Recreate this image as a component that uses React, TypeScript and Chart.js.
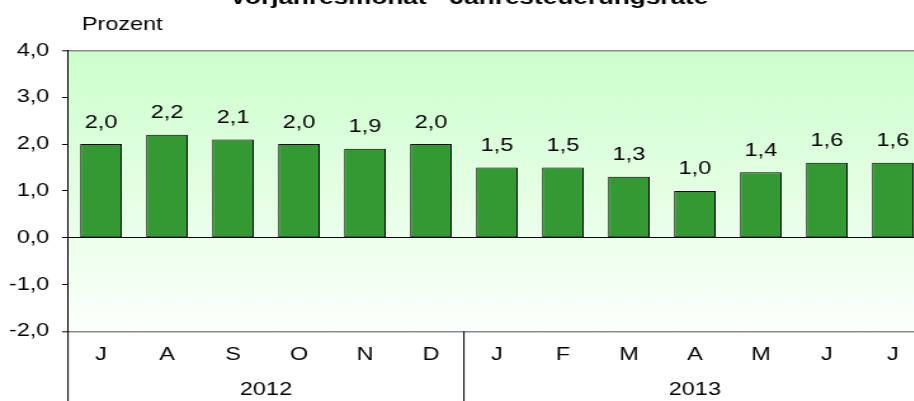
import React, { useEffect, useRef } from "react";
import { Chart, registerables } from "chart.js";

Chart.register(...registerables);

const monthLabels = ["J", "A", "S", "O", "N", "D", "J", "F", "M", "A", "M", "J", "J"];
const rateValues = [2.0, 2.2, 2.1, 2.0, 1.9, 2.0, 1.5, 1.5, 1.3, 1.0, 1.4, 1.6, 1.6];
const yearLabels = ["2012", "2013"];
const yearMonthCounts = [6, 7];
const yTickMin = -2;
const yTickMax = 4;
const titleText = "Vorjahresmonat - Jahresteuerungsrate";
const unitText = "Prozent";

const INTERNAL_W = 740;
const H = 401;
const STRETCH = 914 / 720;
const FONT = "'Liberation Sans', Arial, sans-serif";
const FS = 18.5;

const fmt = (v: number) => v.toFixed(1).replace(".", ",");

export default function App() {
  const ref = useRef<HTMLCanvasElement | null>(null);

  useEffect(() => {
    const canvas = ref.current;
    if (!canvas) return;

    const bgPlugin = {
      id: "bgGradient",
      beforeDraw(chart: any) {
        const { ctx, chartArea } = chart;
        const g = ctx.createLinearGradient(0, chartArea.top, 0, chartArea.bottom);
        g.addColorStop(0, "rgb(204,255,204)");
        g.addColorStop(1, "rgb(252,255,252)");
        ctx.save();
        ctx.fillStyle = g;
        ctx.fillRect(chartArea.left, chartArea.top, chartArea.right - chartArea.left, chartArea.bottom - chartArea.top);
        ctx.restore();
      },
    };

    const decoPlugin = {
      id: "deco",
      afterDraw(chart: any) {
        const { ctx, chartArea } = chart;
        const xs = chart.scales.x;
        const meta = chart.getDatasetMeta(0);
        ctx.save();
        ctx.fillStyle = "#000";
        ctx.font = `${FS}px ${FONT}`;
        ctx.textAlign = "center";
        ctx.textBaseline = "middle";
        meta.data.forEach((bar: any, i: number) => {
          ctx.fillText(fmt(rateValues[i]), bar.x, bar.y - 21.5);
        });
        ctx.font = `bold 20.6px ${FONT}`;
        ctx.textBaseline = "alphabetic";
        ctx.fillText(titleText, 369.5, 4);
        ctx.font = `${FS}px ${FONT}`;
        ctx.textAlign = "left";
        ctx.fillText(unitText, 64.5, 30);
        ctx.strokeStyle = "#000";
        ctx.lineWidth = 1;
        ctx.beginPath();
        ctx.moveTo(chartArea.left, chartArea.bottom);
        ctx.lineTo(chartArea.left, H);
        let start = 0;
        yearMonthCounts.forEach((count, gi) => {
          const end = start + count - 1;
          if (gi < yearMonthCounts.length - 1) {
            const sx = (xs.getPixelForValue(end) + xs.getPixelForValue(end + 1)) / 2;
            ctx.moveTo(sx, chartArea.bottom);
            ctx.lineTo(sx, H);
          }
          start = end + 1;
        });
        ctx.stroke();
        ctx.textAlign = "center";
        ctx.textBaseline = "middle";
        start = 0;
        yearMonthCounts.forEach((count, gi) => {
          const end = start + count - 1;
          const cx = (xs.getPixelForValue(start) + xs.getPixelForValue(end)) / 2;
          ctx.fillText(yearLabels[gi], cx, 389.5);
          start = end + 1;
        });
        ctx.restore();
      },
    };

    const chart = new Chart(canvas, {
      type: "bar",
      data: {
        labels: monthLabels,
        datasets: [
          {
            data: rateValues,
            backgroundColor: "#339933",
            borderColor: "#000",
            borderWidth: 1,
            borderSkipped: false,
            barPercentage: 0.63,
            categoryPercentage: 1,
          },
        ],
      },
      options: {
        animation: false,
        responsive: false,
        devicePixelRatio: 1,
        layout: { padding: { top: 50.5, left: 0, right: INTERNAL_W - 729.6, bottom: 0 } },
        plugins: { legend: { display: false }, tooltip: { enabled: false }, title: { display: false } },
        scales: {
          x: {
            type: "category",
            offset: true,
            grid: { display: false, drawTicks: false },
            border: { display: false },
            ticks: {
              color: "#000",
              font: { size: FS, family: FONT },
              padding: 13,
              autoSkip: false,
              maxRotation: 0,
              minRotation: 0,
            },
            afterFit(scale: any) {
              scale.height = H - 331.3;
            },
          },
          y: {
            min: yTickMin,
            max: yTickMax,
            ticks: {
              stepSize: 1,
              color: "#000",
              font: { size: FS, family: FONT },
              padding: 10,
              callback: (v: any) => fmt(Number(v)),
            },
            grid: {
              drawOnChartArea: true,
              drawTicks: true,
              tickLength: 4.7,
              tickColor: "#000",
              tickWidth: 1,
              color: (c: any) => {
                const v = c.tick ? c.tick.value : null;
                if (v === 0) return "#000";
                if (v === yTickMax || v === yTickMin) return "#8a8a8a";
                return "rgba(0,0,0,0)";
              },
              lineWidth: (c: any) => {
                const v = c.tick ? c.tick.value : null;
                if (v === yTickMax || v === yTickMin) return 1.6;
                return 1;
              },
            },
            border: { display: true, color: "#000", width: 1 },
            afterFit(scale: any) {
              scale.width = 53.6;
            },
          },
        },
      },
      plugins: [bgPlugin, decoPlugin],
    } as any);

    return () => chart.destroy();
  }, []);

  return (
    <div
      style={{
        position: "fixed",
        left: 0,
        top: 0,
        width: 914,
        height: H,
        overflow: "hidden",
        background: "#fff",
      }}
    >
      <canvas
        ref={ref}
        width={INTERNAL_W}
        height={H}
        style={{ width: `${INTERNAL_W * STRETCH}px`, height: `${H}px`, display: "block" }}
      />
    </div>
  );
}
